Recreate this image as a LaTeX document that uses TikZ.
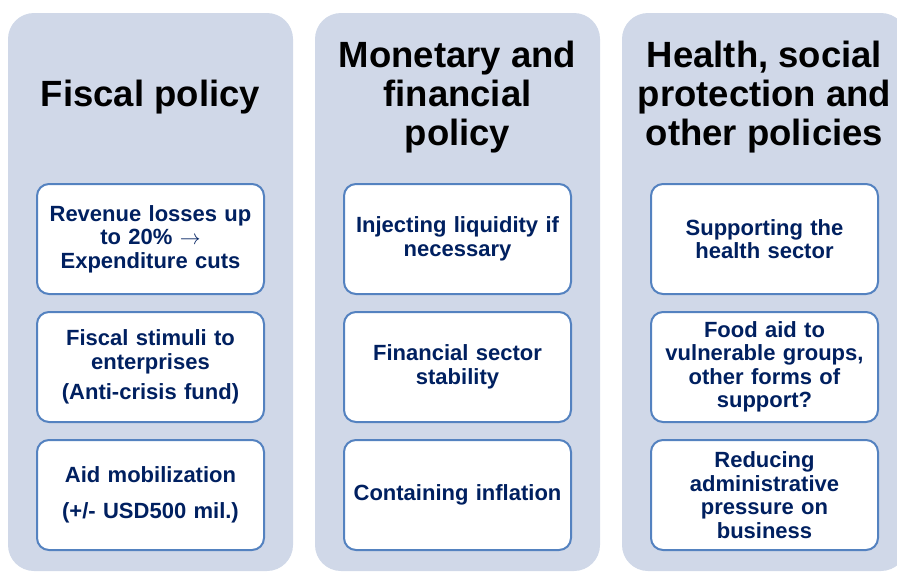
\documentclass[tikz,border=0pt]{standalone}
\usepackage{fontspec}
\setmainfont{Liberation Sans}
\usepackage{tikz}
\usetikzlibrary{positioning}
\definecolor{colfill}{RGB}{208,216,232}
\definecolor{boxline}{RGB}{84,130,192}
\definecolor{boxtext}{RGB}{0,32,96}
\tikzstyle{pol_col} = [rectangle, rounded corners=26pt, fill=colfill, minimum width=285pt, minimum height=558pt, inner sep=0pt]
\tikzstyle{pol_head} = [align=center, font=\fontsize{36.5}{39}\selectfont\bfseries, text=black, inner sep=0pt]
\tikzstyle{pol_box} = [rectangle, rounded corners=12pt, draw=boxline, line width=2pt, fill=white, minimum width=227pt, minimum height=110pt, text width=215pt, align=center, inner sep=0pt, font=\fontsize{22}{23.5}\selectfont\bfseries, text=boxtext]

\begin{document}
\begin{tikzpicture}[x=1pt,y=-1pt,node distance=16pt]
\useasboundingbox (0,0) rectangle (897,571);
\clip (0,0) rectangle (897,571);
% columns
\node [pol_col] (col_f) at (150.5,292) {};
\node [pol_col] (col_m) at (457.5,292) {};
\node [pol_col] (col_h) at (764.5,292) {};
% headings
\node [pol_head] (head_f) at (150.5,97) {Fiscal policy};
\node [pol_head] (head_m) at (457.5,97) {Monetary and\\ financial\\ policy};
\node [pol_head] (head_h) at (764.5,97) {Health, social\\ protection and\\ other policies};
% fiscal
\node [pol_box] (f_1) at (150.5,239) {Revenue losses up\\ to 20\% $\rightarrow$\\ Expenditure cuts};
\node [pol_box, below=of f_1] (f_2) {Fiscal stimuli to\\ enterprises\\[7pt] (Anti-crisis fund)};
\node [pol_box, below=of f_2] (f_3) {Aid mobilization\\[12pt] (+/- USD500 mil.)};
% monetary
\node [pol_box] (m_1) at (457.5,239) {Injecting liquidity if\\ necessary};
\node [pol_box, below=of m_1] (m_2) {Financial sector\\ stability};
\node [pol_box, below=of m_2] (m_3) {Containing inflation};
% health
\node [pol_box] (h_1) at (764.5,239) {Supporting the\\ health sector};
\node [pol_box, below=of h_1] (h_2) {Food aid to\\ vulnerable groups,\\ other forms of\\ support?};
\node [pol_box, below=of h_2] (h_3) {Reducing\\ administrative\\ pressure on\\ business};
\end{tikzpicture}
\end{document}
